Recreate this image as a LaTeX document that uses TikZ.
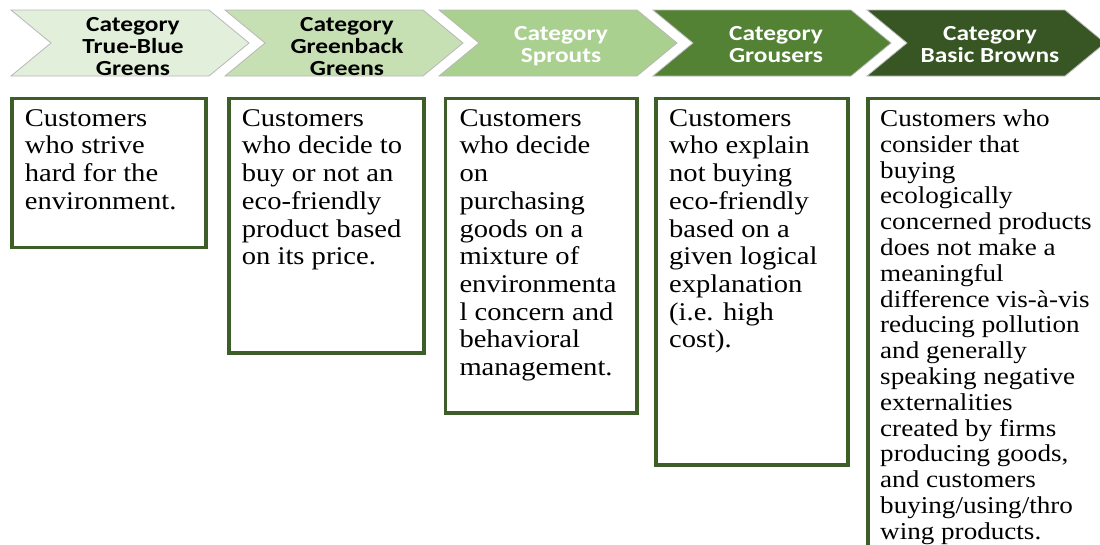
\documentclass[tikz,border=0pt]{standalone}
\usepackage{fontspec}
\newfontfamily\chevfont[FakeStretch=1.18]{Carlito}
\newfontfamily\cardfont[FakeStretch=1.12]{Liberation Serif}
\definecolor{stepA}{HTML}{E2EFDA}
\definecolor{stepB}{HTML}{C6E0B4}
\definecolor{stepC}{HTML}{A9D08E}
\definecolor{stepD}{HTML}{548235}
\definecolor{stepE}{HTML}{375623}
\definecolor{cardline}{HTML}{3D5E27}
% one chevron of the process bar: #1 = left x, #2 = fill colour
\newcommand\drawchev[2]{%
  \draw[chevron, fill=#2] (#1,10) -- ++(198,0) -- ++(40,33) -- ++(-40,33)
    -- ++(-198,0) -- ++(40,-33) -- cycle;}
\begin{document}
\begin{tikzpicture}[x=1pt,y=-1pt,
  chevron/.style={draw=black!28, line width=0.8pt},
  chevtext/.style={font=\chevfont\bfseries\fontsize{21.5}{22}\selectfont,
    align=center, inner sep=0pt, anchor=north},
  card/.style={draw=cardline, line width=3.6pt, fill=white, inner sep=0pt,
    outer sep=0pt, anchor=north west},
  cardtext/.style={font=\cardfont\fontsize{25.5}{27.7}\selectfont,
    align=left, inner sep=0pt, anchor=north west},
  smalltext/.style={cardtext, font=\cardfont\fontsize{24.2}{25.8}\selectfont}
]
\useasboundingbox (0,0) rectangle (1100,544);
\clip (0,0) rectangle (1100,544);

% process bar
\drawchev{11}{stepA}
\drawchev{225}{stepB}
\drawchev{439}{stepC}
\drawchev{653}{stepD}
\drawchev{867}{stepE}

\node[chevtext] (c1) at (133,17.5) {Category\\True-Blue\\Greens};
\node[chevtext] (c2) at (347,17.5) {Category\\Greenback\\Greens};
\node[chevtext, text=white] (c3) at (561,26) {Category\\Sprouts};
\node[chevtext, text=white] (c4) at (776,26) {Category\\Grousers};
\node[chevtext, text=white] (c5) at (990,26) {Category\\Basic Browns};

% description cards
\node[card, minimum width=194.5pt, minimum height=149pt]   (b1) at (11.75,98.5) {};
\node[card, minimum width=195.3pt, minimum height=254.5pt] (b2) at (228.7,98.5) {};
\node[card, minimum width=191.7pt, minimum height=314.5pt] (b3) at (445.3,98.5) {};
\node[card, minimum width=192pt,   minimum height=366.5pt] (b4) at (656,98.5) {};
\node[card, minimum width=260pt,   minimum height=500pt]   (b5) at (868,98.5) {};

\node[cardtext] (t1) at ([xshift=13pt,yshift=-10.7pt]b1.north west)
  {Customers\\who strive\\hard for the\\environment.};
\node[cardtext] (t2) at ([xshift=13pt,yshift=-10.7pt]b2.north west)
  {Customers\\who decide to\\buy or not an\\eco-friendly\\product based\\on its price.};
\node[cardtext] (t3) at ([xshift=14pt,yshift=-10.7pt]b3.north west)
  {Customers\\who decide\\on\\purchasing\\goods on a\\mixture of\\environmenta\\l concern and\\behavioral\\management.};
\node[cardtext] (t4) at ([xshift=13pt,yshift=-10.7pt]b4.north west)
  {Customers\\who explain\\not buying\\eco-friendly\\based on a\\given logical\\explanation\\(i.e. high\\cost).};
\node[smalltext] (t5) at ([xshift=12pt,yshift=-11pt]b5.north west)
  {Customers who\\consider that\\buying\\ecologically\\concerned products\\does not make a\\meaningful\\difference vis-à-vis\\reducing pollution\\and generally\\speaking negative\\externalities\\created by firms\\producing goods,\\and customers\\buying/using/thro\\wing products.};
\end{tikzpicture}
\end{document}
